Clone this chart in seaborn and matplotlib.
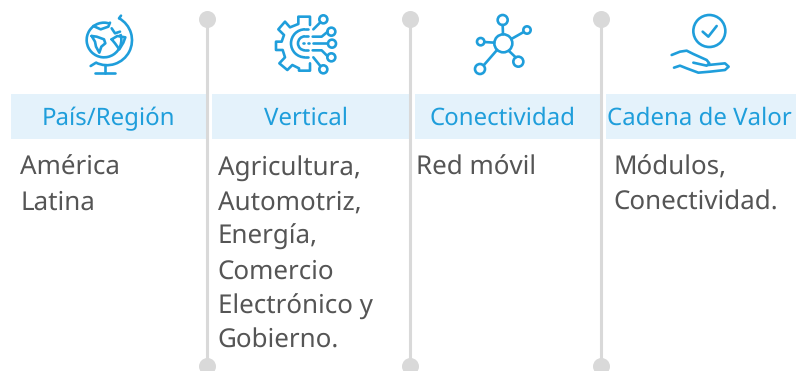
import numpy as np
import pandas as pd
import matplotlib
matplotlib.use("Agg")
import matplotlib.pyplot as plt
from matplotlib.patches import Circle, Arc
import seaborn as sns

headers = ["País/Región", "Vertical", "Conectividad", "Cadena de Valor"]
bodies = [
    ["América", "Latina"],
    ["Agricultura,", "Automotriz,", "Energía,", "Comercio", "Electrónico y", "Gobierno."],
    ["Red móvil"],
    ["Módulos,", "Conectividad."],
]

# layout, in pixels of the 796x371 picture
band_left = [11, 212, 415, 606]
band_right = [206, 410, 601, 796]
header_mid = [108.5, 305.5, 502.5, 699.5]
text_left = [20.5, 217.5, 416.5, 613]
divider_x = [207.2, 410, 601]
divider_top = 19
divider_bottom = 366

BLUE = "#1f9edb"
BAND = "#e4f2fb"
GREY = "#d9d9d9"
TEXT = "#555555"
FONT = "Noto Sans"

sns.set_theme(style="white")
plt.rcParams["font.family"] = [FONT, "DejaVu Sans"]
plt.rcParams["text.hinting"] = "no_hinting"

fig = plt.figure(figsize=(7.96, 3.71), dpi=100)
ax = fig.add_axes([0, 0, 1, 1])

# header bands
ax.bar(band_left, 45, width=np.array(band_right) - np.array(band_left),
       bottom=94, align="edge", color=BAND, linewidth=0, zorder=1)

# dividers with their dots
lines = pd.DataFrame({
    "x": np.repeat(divider_x, 2),
    "y": [divider_top, divider_bottom] * 3,
    "col": np.repeat([0, 1, 2], 2),
})
sns.lineplot(data=lines, x="x", y="y", units="col", estimator=None, sort=False,
             color=GREY, linewidth=2.2, ax=ax, zorder=2)
sns.scatterplot(data=lines, x="x", y="y", color=GREY, s=150, linewidth=0,
                clip_on=True, ax=ax, zorder=3)

for xm, head in zip(header_mid, headers):
    ax.text(xm, 125, head, color=BLUE, fontsize=17.3, ha="center",
            va="baseline", zorder=4)

for x0, col in zip(text_left, bodies):
    for i, line in enumerate(col):
        ax.text(x0, 174.6 + i * 34.7, line, color=TEXT, fontsize=18.7, ha="left",
                va="baseline", zorder=4)


# icons at 3x around an origin
def stroke(ox, oy, pts, lw=1.9):
    pts = np.array(pts, dtype=float)
    ax.plot(ox + pts[:, 0] / 3, oy + pts[:, 1] / 3, color=BLUE, lw=lw,
            solid_capstyle="round", solid_joinstyle="round", zorder=5)


def ring(ox, oy, cx, cy, r, lw=1.9):
    ax.add_patch(Circle((ox + cx / 3, oy + cy / 3), r / 3, fill=False,
                        edgecolor=BLUE, lw=lw, zorder=5))


def arc(ox, oy, cx, cy, r, t1, t2, lw=1.9):
    ax.add_patch(Arc((ox + cx / 3, oy + cy / 3), 2 * r / 3, 2 * r / 3,
                     theta1=t1, theta2=t2, edgecolor=BLUE, lw=lw, zorder=5))


# globe
ox, oy = 60, 0
arc(ox, oy, 132, 120, 52, -20, 290)
arc(ox, oy, 141, 120.6, 75, -61, 116)
stroke(ox, oy, [(183, 47), (177, 55)])
stroke(ox, oy, [(108, 188), (92, 198)])
stroke(ox, oy, [(135, 195), (135, 220)])
stroke(ox, oy, [(105, 220), (165, 220)])
stroke(ox, oy, [(95, 108), (110, 110), (132, 118), (136, 130), (124, 140), (118, 158),
                (108, 140), (105, 125), (95, 108)])
stroke(ox, oy, [(155, 118), (172, 108), (196, 112), (190, 128), (178, 148), (165, 130), (155, 118)])
stroke(ox, oy, [(100, 78), (122, 88), (145, 80), (150, 68)])
stroke(ox, oy, [(155, 85), (165, 100), (180, 95)])

# gear with circuit
stroke(ox, oy, [(750, 75), (750, 50), (715, 50), (715, 72), (690, 82), (675, 65), (655, 88),
                (672, 105), (665, 125), (648, 125), (648, 150), (668, 150), (675, 172),
                (658, 190), (682, 210), (697, 195), (717, 205), (717, 212), (750, 212), (750, 190)])
arc(ox, oy, 735, 130, 42, 90, 270)
arc(ox, oy, 735, 130, 21, 90, 270)
stroke(ox, oy, [(735, 88), (745, 88)])
stroke(ox, oy, [(735, 172), (745, 172)])
stroke(ox, oy, [(735, 109), (745, 109)])
stroke(ox, oy, [(735, 151), (745, 151)])
stroke(ox, oy, [(760, 88), (781, 67)])
ring(ox, oy, 790, 58, 12)
stroke(ox, oy, [(758, 110), (785, 110), (803, 95)])
ring(ox, oy, 814, 95, 12)
stroke(ox, oy, [(760, 130), (802, 130)])
ring(ox, oy, 816, 131, 12)
stroke(ox, oy, [(728, 130), (731, 130)])
stroke(ox, oy, [(743, 130), (746, 130)])
stroke(ox, oy, [(758, 151), (785, 151), (802, 168)])
ring(ox, oy, 814, 172, 12)
stroke(ox, oy, [(760, 172), (781, 198)])
ring(ox, oy, 790, 208, 12)

# network
ox, oy = 450, 0
ring(ox, oy, 160, 130, 27)
ring(ox, oy, 158, 60, 15)
ring(ox, oy, 231, 90, 11)
ring(ox, oy, 92, 125, 11)
ring(ox, oy, 90, 207, 15)
ring(ox, oy, 205, 185, 15)
stroke(ox, oy, [(159, 103), (158, 75)])
stroke(ox, oy, [(184, 117), (221, 96)])
stroke(ox, oy, [(133, 128), (103, 126)])
stroke(ox, oy, [(141, 150), (101, 196)])
stroke(ox, oy, [(176, 152), (197, 172)])

# hand with check
ring(ox, oy, 778, 93, 48)
stroke(ox, oy, [(758, 95), (775, 110), (800, 78)])
stroke(ox, oy, [(665, 165), (690, 155), (710, 152), (730, 162), (770, 180), (778, 190),
                (770, 197), (730, 188)])
stroke(ox, oy, [(672, 203), (690, 197), (710, 205), (745, 218), (780, 215), (825, 210),
                (836, 200), (825, 190), (775, 195)])

ax.set_xlim(0, 796)
ax.set_ylim(371, 0)
ax.axis("off")
fig.savefig("out.png", dpi=100)
